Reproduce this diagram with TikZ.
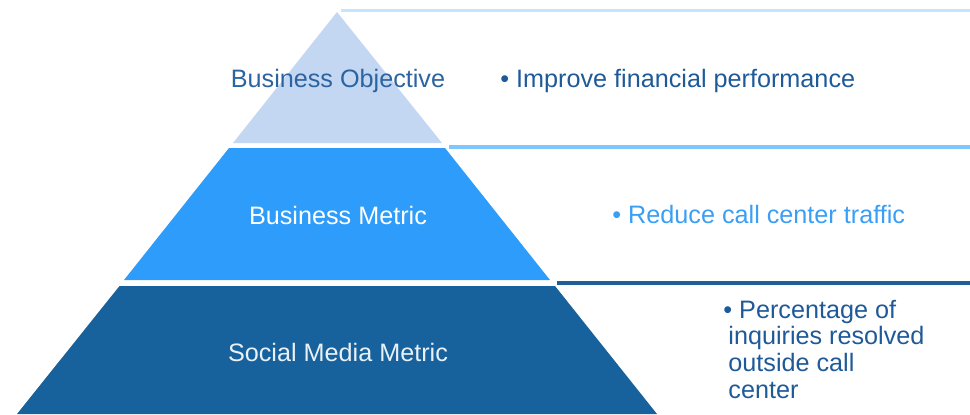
\documentclass[tikz,border=0pt]{standalone}
\usepackage{fontspec}
\setmainfont{Liberation Sans}
\definecolor{objfill}{HTML}{C3D6F2}
\definecolor{metricfill}{HTML}{2E9CFA}
\definecolor{socialfill}{HTML}{17629C}
\definecolor{objline}{HTML}{C5E4FF}
\definecolor{metricline}{HTML}{7DC6FF}
\definecolor{socialline}{HTML}{1E5F96}
\definecolor{objtext}{HTML}{2B64A0}
\definecolor{goaltext}{HTML}{1F5A98}
\definecolor{metrictext}{HTML}{3A9EF5}
\definecolor{socialtext}{HTML}{E8F0F8}
\tikzset{
  tier label/.style={anchor=base, inner sep=0pt, font=\fontsize{12.6}{15}\selectfont},
  goal text/.style={anchor=base west, inner sep=0pt, align=left, font=\fontsize{12.6}{13.3}\selectfont},
}

\begin{document}
\begin{tikzpicture}[x=0.5pt, y=-0.5pt]
    \useasboundingbox (0,0) rectangle (970,414);
    % pyramid
    \fill[objfill] (337,12) -- (442,143) -- (233,143) -- cycle;
    \fill[metricfill] (229,148) -- (445,148) -- (550,280) -- (124,280) -- cycle;
    \fill[socialfill] (119.5,286) -- (555,286) -- (657,414) -- (17,414) -- cycle;
    % rules on the right
    \draw[objline, line width=1.5pt] (341,10) -- (970,10);
    \draw[metricline, line width=2pt] (449,147) -- (970,147);
    \draw[socialline, line width=2pt] (557,283) -- (970,283);
    % labels
    \node[tier label, text=objtext] (objective) at (338,87) {Business Objective};
    \node[goal text, text=goaltext] (objgoal) at (500,87) {\textbullet{} Improve financial performance};
    \node[tier label, text=white] (metric) at (338,224) {Business Metric};
    \node[goal text, text=metrictext] (metricgoal) at (612,223) {\textbullet{} Reduce call center traffic};
    \node[tier label, text=socialtext] (social) at (338,361) {Social Media Metric};
    \node[goal text, text=goaltext] (socialgoal) at (723,398) {\textbullet{} Percentage of\\\hspace*{2.5pt}inquiries resolved\\\hspace*{2.5pt}outside call\\\hspace*{2.5pt}center};
\end{tikzpicture}
\end{document}
